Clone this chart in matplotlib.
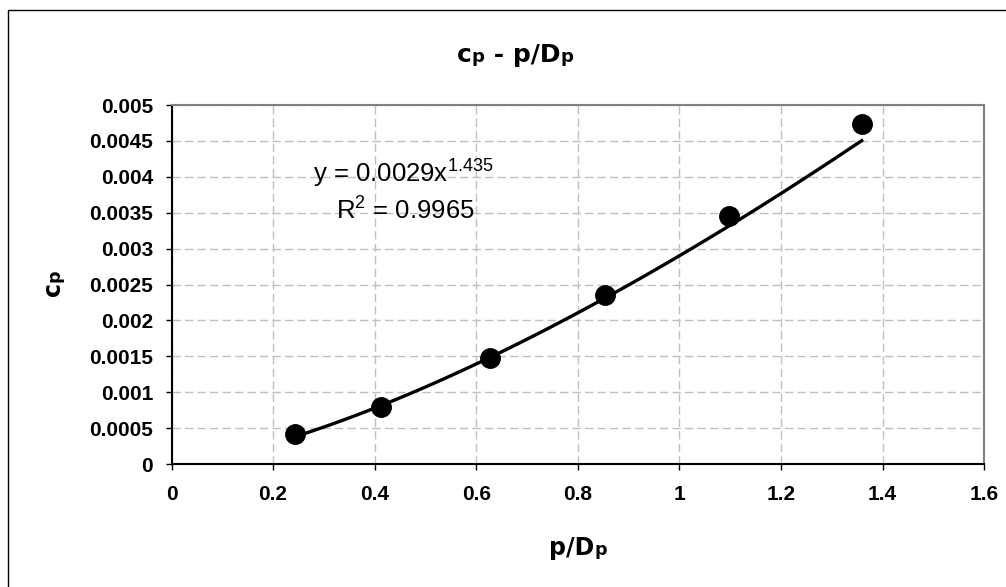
import numpy as np
import matplotlib
matplotlib.use("Agg")
import matplotlib.pyplot as plt
from matplotlib.transforms import offset_copy
from matplotlib.lines import Line2D

plt.rcParams["font.family"] = ["Liberation Sans", "DejaVu Sans"]
plt.rcParams["mathtext.fontset"] = "custom"
plt.rcParams["mathtext.rm"] = "Liberation Sans"

# measured points
p_over_D = [0.244, 0.413, 0.627, 0.854, 1.097, 1.359]
cp = [0.00042, 0.00079, 0.00147, 0.00236, 0.00346, 0.00474]

# power trendline y = a * x^b
fit_a = 0.0029
fit_b = 1.435
fit_r2 = 0.9965

x_ticks = [0, 0.2, 0.4, 0.6, 0.8, 1.0, 1.2, 1.4, 1.6]
y_ticks = [0, 0.0005, 0.001, 0.0015, 0.002, 0.0025, 0.003, 0.0035, 0.004, 0.0045, 0.005]

fig = plt.figure(figsize=(10.06, 5.87), dpi=100)
ax = fig.add_axes([0.1705, 0.2095, 0.8077, 0.6116])

# chart area border (runs off the right and bottom edges)
fig.add_artist(Line2D([0.008, 0.008, 1.0], [0.0, 0.9835, 0.9835],
                      transform=fig.transFigure, color="black", lw=1.0))

xs = np.linspace(p_over_D[0], p_over_D[-1], 200)
ax.plot(xs, fit_a * xs ** fit_b, color="black", lw=2.4, zorder=3)
ax.plot(p_over_D, cp, "o", color="black", markersize=14, zorder=4)

ax.set_xlim(0, 1.6)
ax.set_ylim(0, 0.005)
ax.set_xticks(x_ticks)
ax.set_yticks(y_ticks)
ax.set_xticklabels([f"{v:g}" for v in x_ticks])
ax.set_yticklabels([f"{v:g}" for v in y_ticks])
for lbl in ax.get_xticklabels() + ax.get_yticklabels():
    lbl.set_fontweight("bold")
    lbl.set_fontsize(15)
ax.tick_params(axis="both", direction="out", length=4.3, width=1, color="black")
ax.tick_params(axis="x", pad=11)
ax.tick_params(axis="y", pad=9)

ax.grid(True, color="#c0c0c0", lw=1, dashes=(6, 3))
ax.set_axisbelow(True)
for side in ["left", "bottom"]:
    ax.spines[side].set_color("black")
    ax.spines[side].set_linewidth(1.5)
for side in ["top", "right"]:
    ax.spines[side].set_color("#808080")
    ax.spines[side].set_linewidth(1.5)

ax.text(0.456, 0.003928, f"y = {fit_a:g}x$^{{{fit_b:g}}}$", fontsize=18.5,
        ha="center", va="baseline")
ax.text(0.46, 0.003412, f"R$^{{2}}$ = {fit_r2:g}", fontsize=18.5,
        ha="center", va="baseline")


def pieced_label(x, y, pieces, rotation=0):
    """Draw a label made of pieces with different sizes, centred on (x, y)."""
    renderer = fig.canvas.get_renderer()
    widths = []
    for s, size in pieces:
        t = fig.text(0, 0, s, fontsize=size, fontweight="bold", family="DejaVu Sans")
        widths.append(t.get_window_extent(renderer).width)
        t.remove()
    pos = -sum(widths) / 2
    for (s, size), w in zip(pieces, widths):
        dx, dy = (pos, 0) if rotation == 0 else (0, pos)
        tr = offset_copy(fig.transFigure, fig=fig, x=dx, y=dy, units="dots")
        fig.text(x, y, s, transform=tr, fontsize=size, fontweight="bold",
                 family="DejaVu Sans", rotation=rotation, rotation_mode="anchor",
                 ha="left", va="baseline")
        pos += w


pieced_label(0.512, 0.895, [("c", 18), ("p", 13), (" - p/D", 18), ("p", 13)])
pieced_label(0.5743, 0.0545, [("p/D", 17), ("p", 12.5)])
pieced_label(0.0596, 0.5179, [("c", 17), ("p", 12.5)], rotation=90)

fig.savefig("out.png", dpi=100)
